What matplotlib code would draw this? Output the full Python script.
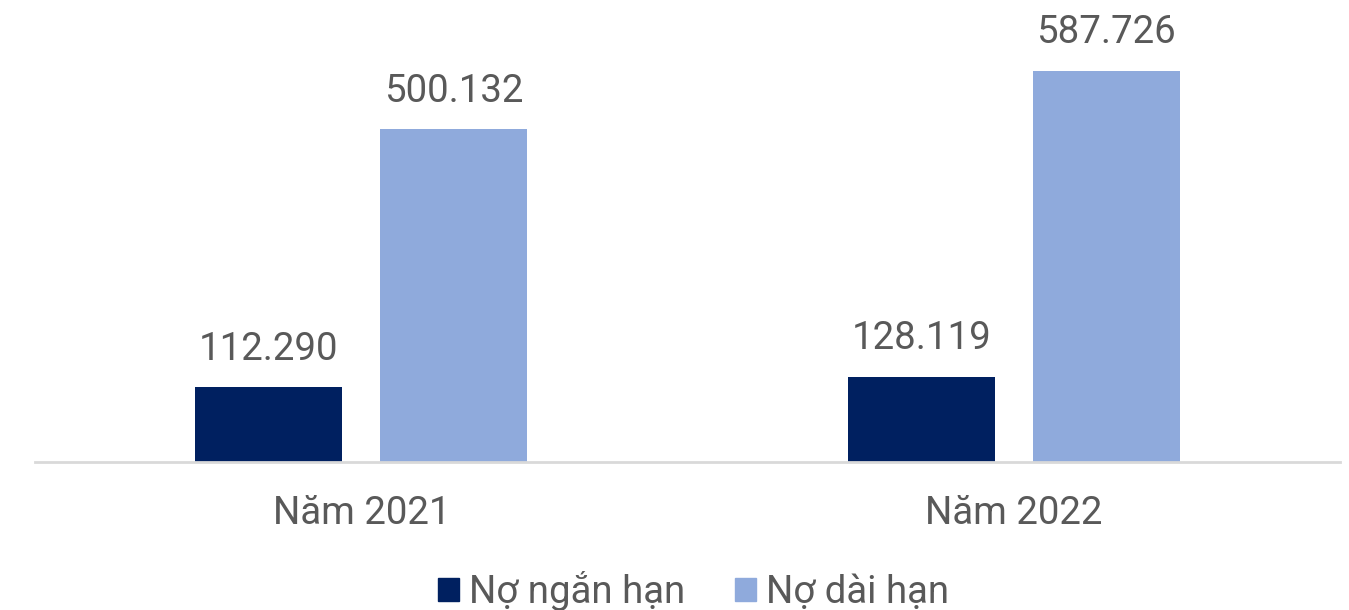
import matplotlib.pyplot as plt
import numpy as np
from matplotlib.patches import Patch

plt.rcParams['font.family'] = ['Roboto', 'DejaVu Sans']

# --- Data ---
categories = ["Năm 2021", "Năm 2022"]
series_names = ["Nợ ngắn hạn", "Nợ dài hạn"]
short_term = [112290, 128119]
long_term = [500132, 587726]

colors = ["#002060", "#8FAADC"]
text_color = "#595959"

fig = plt.figure(figsize=(13.49, 6.10), dpi=100)
ax = fig.add_axes([0.026, 0.2426, 0.9674, 0.741])

x = np.arange(len(categories))
w = 0.225
off = 0.1418
b1 = ax.bar(x - off, short_term, w, color=colors[0], label=series_names[0])
b2 = ax.bar(x + off, long_term, w, color=colors[1], label=series_names[1])


def fmt(v):
    return f"{v:,}".replace(",", ".")


for bars, vals in [(b1, short_term), (b2, long_term)]:
    ax.bar_label(bars, labels=[fmt(v) for v in vals], padding=14,
                 fontsize=27.6, color=text_color)

ax.set_xlim(-0.5, 1.5)
ax.set_ylim(0, 679000)
ax.set_xticks(x)
ax.set_xticklabels(categories, fontsize=27.6, color=text_color)
ax.tick_params(axis='x', length=0, pad=24)
ax.set_yticks([])
for s in ["top", "right", "left"]:
    ax.spines[s].set_visible(False)
ax.spines["bottom"].set_color("#D9D9D9")
ax.spines["bottom"].set_linewidth(2)

handles = [Patch(color=c, label=n) for c, n in zip(colors, series_names)]
leg = fig.legend(handles=handles, loc="center", bbox_to_anchor=(0.514, 0.031),
                 ncol=2, frameon=False, fontsize=27.6, handlelength=0.55,
                 handleheight=0.55, handletextpad=0.25, columnspacing=1.3)
for t in leg.get_texts():
    t.set_color(text_color)

fig.savefig("out.png", dpi=100)
